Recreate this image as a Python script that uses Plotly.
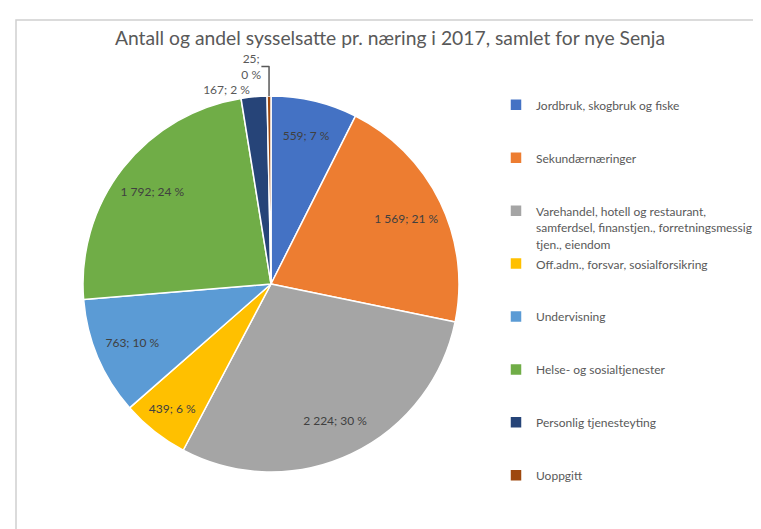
import plotly.graph_objects as go

categories = [
    "Jordbruk, skogbruk og fiske",
    "Sekundærnæringer",
    "Varehandel, hotell og restaurant,<br>samferdsel, finanstjen., forretningsmessig<br>tjen., eiendom",
    "Off.adm., forsvar, sosialforsikring",
    "Undervisning",
    "Helse- og sosialtjenester",
    "Personlig tjenesteyting",
    "Uoppgitt",
]
values = [559, 1569, 2224, 439, 763, 1792, 167, 25]
colors = ["#4472C4", "#ED7D31", "#A5A5A5", "#FFC000", "#5B9BD5", "#70AD47", "#264478", "#9E480E"]
title_text = "Antall og andel sysselsatte pr. næring i 2017, samlet for nye Senja"

W, H = 761, 529
total = sum(values)


def fmt(v):
    return f"{v:,}".replace(",", " ")


inside_texts, outside_texts = [], []
inside_pos, outside_pos = [], []
for v in values:
    pct = round(100 * v / total)
    t = f"{fmt(v)};<br>{pct} %" if pct < 1 else f"{fmt(v)}; {pct} %"
    if pct < 3:
        outside_texts.append(t)
        outside_pos.append("outside")
        inside_texts.append(t)
        inside_pos.append("outside")
    else:
        inside_texts.append(t)
        inside_pos.append("inside")
        outside_texts.append("")
        outside_pos.append("none")

# pad legend entries so all items take three lines (even spacing as in reference)
legend_labels = []
for c in categories:
    n = c.count("<br>") + 1
    legend_labels.append("<span style='font-size:12px'>" + c + "</span>" + "<br> " * (3 - n))

domain = dict(x=[75 / W, 451 / W], y=[1 - 464 / H, 1 - 88 / H])

fig = go.Figure()
fig.add_trace(go.Pie(
    labels=legend_labels,
    values=values,
    text=outside_texts,
    textinfo="text",
    textposition=outside_pos,
    sort=False,
    direction="clockwise",
    rotation=0,
    marker=dict(colors=colors, line=dict(color="white", width=1.5)),
    outsidetextfont=dict(family="Lato", size=12, color="#595959"),
    hoverinfo="skip",
    domain=domain,
))
# transparent ring carrying the inside data labels (places them toward the rim);
# it repeats the outside labels invisibly so both traces get identical geometry
fig.add_trace(go.Pie(
    labels=legend_labels,
    values=values,
    text=inside_texts,
    textinfo="text",
    textposition=inside_pos,
    insidetextorientation="horizontal",
    hole=0.6,
    sort=False,
    direction="clockwise",
    rotation=0,
    showlegend=False,
    marker=dict(colors=["rgba(0,0,0,0)"] * len(values), line=dict(width=0)),
    insidetextfont=dict(family="Lato", size=12, color="#404040"),
    outsidetextfont=dict(family="Lato", size=12, color="rgba(0,0,0,0)"),
    hoverinfo="skip",
    domain=domain,
))

fig.update_layout(
    width=W, height=H,
    margin=dict(l=0, r=0, t=0, b=0),
    paper_bgcolor="white",
    plot_bgcolor="white",
    font=dict(family="Lato", color="#595959"),
    uniformtext=dict(minsize=12, mode="show"),
    title=dict(text=title_text, x=382 / W, xanchor="center", xref="paper",
               y=1 - 30 / H, yanchor="middle", yref="container",
               font=dict(family="Lato", size=19.3, color="#595959")),
    legend=dict(x=488 / W, xanchor="left", y=1 - 82 / H, yanchor="top",
                valign="top", font=dict(family="Lato", size=12.8, color="#595959"),
                bgcolor="rgba(0,0,0,0)"),
    shapes=[dict(type="rect", xref="paper", yref="paper",
                 x0=8 / W, x1=1.05, y0=-0.05, y1=1 - 12 / H,
                 line=dict(color="#D0D0D0", width=1.5), fillcolor="rgba(0,0,0,0)",
                 layer="below")],
)

fig.write_html("out.html")
